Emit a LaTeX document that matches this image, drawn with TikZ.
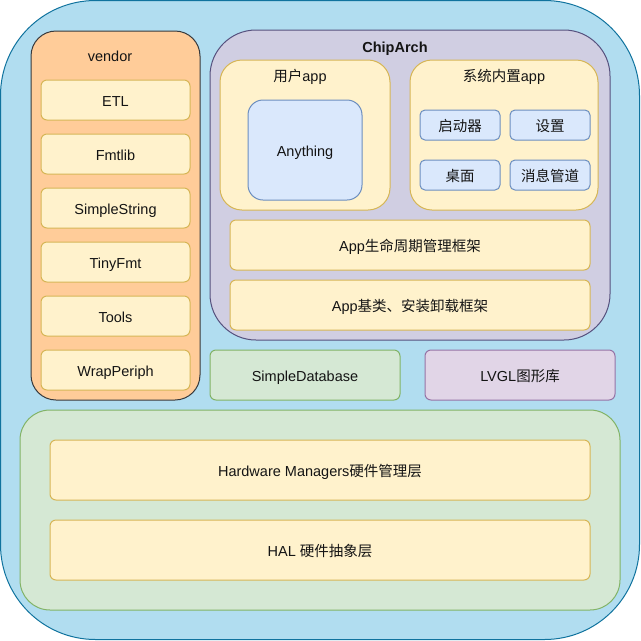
\documentclass[tikz,border=0pt]{standalone}
\usepackage{fontspec}
\setmainfont{Liberation Sans}
\newfontfamily\cjk{Noto Sans CJK SC}
\newcommand{\zh}[1]{{\cjk #1}}
\usepackage{xcolor}
\usepackage{tikz}
\usetikzlibrary{positioning}
\definecolor{outerfill}{HTML}{B1DDF0}\definecolor{outerline}{HTML}{10739E}
\definecolor{orfill}{HTML}{FFCC99}\definecolor{orline}{HTML}{36393D}
\definecolor{pufill}{HTML}{D0CEE2}\definecolor{puline}{HTML}{56517E}
\definecolor{yefill}{HTML}{FFF2CC}\definecolor{yeline}{HTML}{D6B656}
\definecolor{blfill}{HTML}{DAE8FC}\definecolor{blline}{HTML}{6C8EBF}
\definecolor{grfill}{HTML}{D5E8D4}\definecolor{grline}{HTML}{82B366}
\definecolor{lvfill}{HTML}{E1D5E7}\definecolor{lvline}{HTML}{9673A6}

\begin{document}
\begin{tikzpicture}[x=1pt, y=-1pt, line width=1pt,
    every node/.style={font=\fontsize{14.5}{17}\selectfont, text=black!92, inner sep=0pt,
                       text height=12pt, text depth=0pt},
    layer/.style={rounded corners=6pt, minimum height=50pt},
    yellowbox/.style={layer, draw=yeline, fill=yefill},
    bluebox/.style={draw=blline, fill=blfill, rounded corners=5pt, minimum width=80pt, minimum height=30pt},
    greenbox/.style={layer, draw=grline, fill=grfill},
    lvglbox/.style={layer, draw=lvline, fill=lvfill}]
\useasboundingbox (0,0) rectangle (641,641);
% outer frame
\node[draw=outerline, fill=outerfill, rounded corners=95pt, minimum width=639pt, minimum height=639pt] (chip) at (320,320) {};

% vendor column
\node[draw=orline, fill=orfill, rounded corners=25pt, minimum width=169pt, minimum height=369pt] (vendor) at (115.5,215.5) {};
\node (vendortitle) at (110,55) {vendor};
\foreach \name/\txt/\y in {etl/ETL/100, fmtlib/Fmtlib/154, simplestring/SimpleString/208,
                            tinyfmt/TinyFmt/262, tools/Tools/316, wrapperiph/WrapPeriph/370}
    \node[yellowbox, minimum width=149pt, minimum height=40pt] (\name) at (115.5,\y) {\txt};

% ChipArch block
\node[draw=puline, fill=pufill, rounded corners=46pt, minimum width=400pt, minimum height=310pt] (chiparch) at (410,185) {};
\node[font=\fontsize{14.5}{17}\selectfont\bfseries] (chiptitle) at (395,46) {ChipArch};

\node[draw=yeline, fill=yefill, rounded corners=22pt, minimum width=170pt, minimum height=150pt] (userapp) at (305,135) {};
\node (usertitle) at (300,75) {\zh{用户}app};
\node[draw=blline, fill=blfill, rounded corners=15pt, minimum width=114pt, minimum height=100pt] (anything) at (305,150) {Anything};

\node[draw=yeline, fill=yefill, rounded corners=22pt, minimum width=188pt, minimum height=150pt] (sysapp) at (504,135) {};
\node (systitle) at (504,75) {\zh{系统内置}app};
\foreach \name/\txt/\x/\y in {launcher/启动器/460/125, settings/设置/550/125,
                              desktop/桌面/460/175, msgpipe/消息管道/550/175}
    \node[bluebox] (\name) at (\x,\y) {\zh{\txt}};

\node[yellowbox, minimum width=360pt] (lifecycle) at (410,245) {App\zh{生命周期管理框架}};
\node[yellowbox, minimum width=360pt] (appbase) at (410,305) {App\zh{基类、安装卸载框架}};

% middle libraries
\node[greenbox, minimum width=190pt] (simpledb) at (305,375) {SimpleDatabase};
\node[lvglbox, minimum width=190pt] (lvgl) at (520,375) {LVGL\zh{图形库}};

% hardware layers
\node[draw=grline, fill=grfill, rounded corners=30pt, minimum width=600pt, minimum height=200pt] (hwgroup) at (320,510) {};
\node[yellowbox, minimum width=540pt, minimum height=60pt] (hwmgr) at (320,470) {Hardware Managers\zh{硬件管理层}};
\node[yellowbox, minimum width=540pt, minimum height=60pt] (hal) at (320,550) {HAL \zh{硬件抽象层}};
\end{tikzpicture}
\end{document}
